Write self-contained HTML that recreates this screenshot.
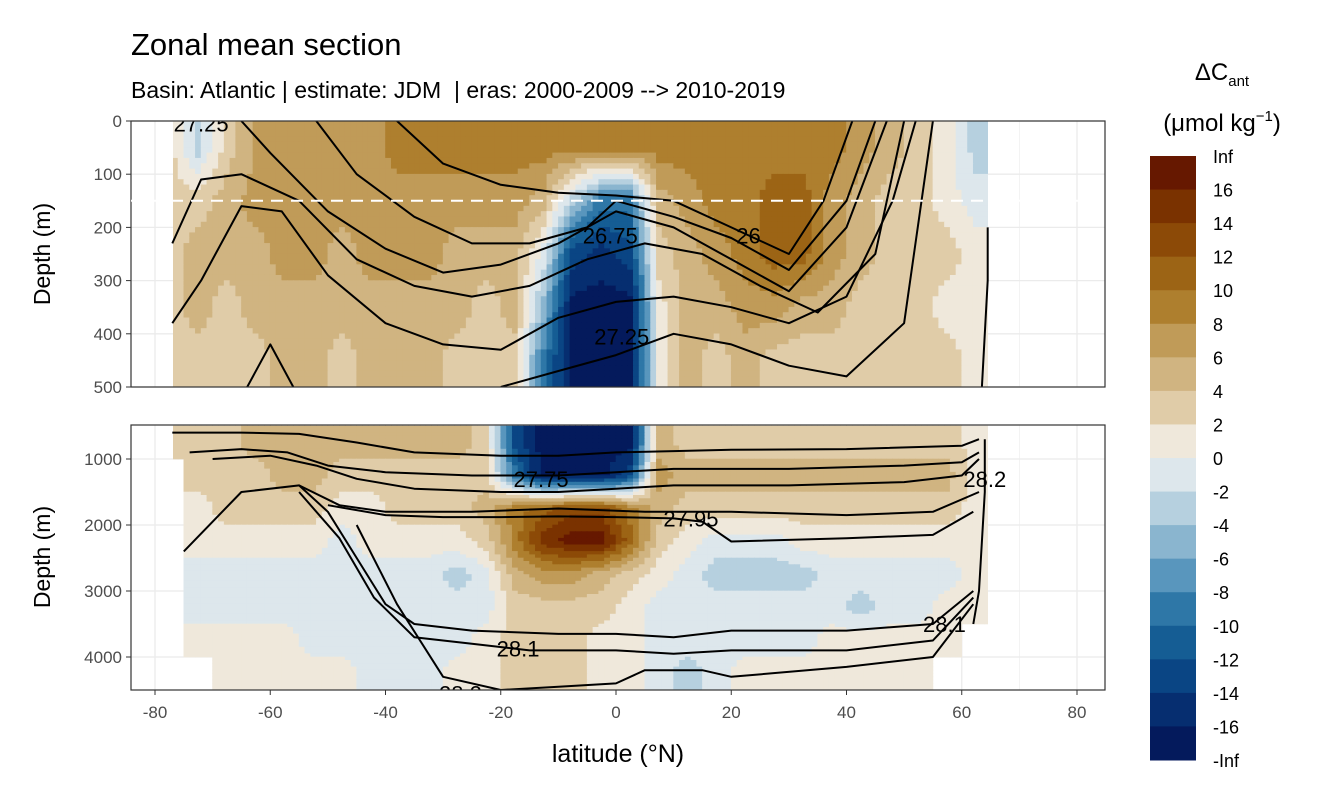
<!DOCTYPE html>
<html><head><meta charset="utf-8"><style>
body{margin:0;background:#fff;font-family:"Liberation Sans",sans-serif;}
svg text{font-family:"Liberation Sans","DejaVu Sans",sans-serif;white-space:pre;}
</style></head><body>
<svg id="chart" width="1344" height="806" viewBox="0 0 1344 806" xmlns="http://www.w3.org/2000/svg">
<defs>
<clipPath id="clipTop"><rect x="173" y="121" width="815" height="266"/></clipPath>
<clipPath id="clipBot"><rect x="173" y="425" width="815" height="265"/></clipPath>
<clipPath id="clipTopP"><rect x="131" y="121" width="974" height="266"/></clipPath>
<clipPath id="clipBotP"><rect x="131" y="425" width="974" height="265"/></clipPath>
</defs>
<text x="131" y="55" font-size="31" fill="#000">Zonal mean section</text>
<text x="131" y="98" font-size="23" fill="#000" xml:space="preserve">Basin: Atlantic | estimate: JDM  | eras: 2000-2009 --&gt; 2010-2019</text>
<g id="gTop"></g><g id="gBot"></g><g id="gLegend"></g>
<text x="618" y="762" font-size="25" text-anchor="middle">latitude (°N)</text>
<text transform="translate(50,254) rotate(-90)" font-size="23" text-anchor="middle">Depth (m)</text>
<text transform="translate(50,557) rotate(-90)" font-size="23" text-anchor="middle">Depth (m)</text>
<text x="1222" y="80" font-size="24" text-anchor="middle">ΔC<tspan font-size="15" dy="6">ant</tspan></text>
<text x="1222" y="131" font-size="24" text-anchor="middle">(μmol kg<tspan font-size="15" dy="-10">−1</tspan><tspan dy="10">)</tspan></text>
</svg>
<script>
const latCenters=[-77.5,-72.5,-67.5,-62.5,-57.5,-52.5,-47.5,-42.5,-37.5,-32.5,-27.5,-22.5,-17.5,-12.5,-7.5,-2.5,2.5,7.5,12.5,17.5,22.5,27.5,32.5,37.5,42.5,47.5,52.5,57.5,62.5];
const topDepths=[50,150,250,350,450];
const topValues=[
[3,-3,3,6,7,7,7,7,9,9,9,9,9,9,9,9,9,9,9,9,9,9,9,9,7,5,3,1,-3],
[3,3,5,7,7,7,7,7,7,7,7,7,7,5,-3,-9,-9,5,7,9,9,11,11,7,5,3,3,1,-1],
[3,5,5,5,7,7,5,7,7,7,5,5,5,-1,-13,-15,-13,3,5,7,9,11,11,7,5,3,3,3,1],
[3,5,3,5,5,5,5,5,5,5,5,3,5,-5,-17,-17,-17,1,5,5,7,7,5,5,3,3,3,1,1],
[3,3,3,3,5,5,3,5,5,5,3,3,3,-9,-17,-17,-17,1,5,3,5,3,3,3,3,3,3,3,1]];
const botDepths=[750,1250,1750,2250,2750,3250,3750,4250];
const botValues=[
[3,3,3,5,5,5,5,5,5,5,5,3,-13,-17,-17,-17,-17,5,3,3,3,3,3,3,3,3,3,3,1],
[null,3,3,3,5,5,3,3,3,3,3,3,-9,-17,-17,-17,-13,7,5,5,5,5,5,5,5,5,5,5,1],
[null,1,3,3,3,3,1,1,3,3,3,5,9,11,13,13,9,5,3,3,3,3,3,3,3,3,3,3,1],
[null,1,1,1,1,1,-1,1,1,1,1,3,9,15,17,17,11,3,1,-1,-1,-1,1,1,1,1,1,1,1],
[null,-1,-1,-1,-1,-1,-1,-1,-1,-1,-3,-1,5,7,7,5,3,1,-1,-3,-3,-3,-3,-1,-1,-1,-1,-1,1],
[null,-1,-1,-1,-1,-1,-1,-1,-1,-1,-1,-1,3,3,3,3,1,-1,-1,-1,-1,-1,-1,-1,-3,-1,-1,1,1],
[null,1,1,1,1,-1,-1,-1,-1,-1,-1,1,3,3,3,1,1,-1,-1,-1,-1,-1,-1,1,1,1,1,1,null],
[null,null,1,1,1,1,1,-1,-1,-1,1,1,3,3,3,1,1,-1,-3,-1,1,1,1,1,1,1,1,null,null]];
const legendLabels=["Inf","16","14","12","10","8","6","4","2","0","-2","-4","-6","-8","-10","-12","-14","-16","-Inf"];
const binColors=["#661800","#7a3200","#8c4a07","#9c6415","#ae7f2e","#c09b58","#d0b481","#e0cca8","#efe8db","#dde7ec","#b6d0df","#8ab5cf","#5996bd","#2e77a7","#155d94","#0a4584","#062e70","#041a5c"];
const xTicks=[-80,-60,-40,-20,0,20,40,60,80];
const topYTicks=[0,100,200,300,400,500];
const botYTicks=[1000,2000,3000,4000];
const topLines=[
{lat:[-38,-30,-20,-10,0,10,20,30,36,41],d:[0,80,120,135,140,150,200,250,150,0]},
{lat:[-52,-45,-35,-25,-15,-5,0,10,20,30,40,45],d:[0,100,180,230,230,200,150,180,220,280,150,0]},
{lat:[-65,-60,-50,-40,-30,-20,-10,0,10,20,30,40,47],d:[0,60,170,240,285,270,230,170,200,260,320,200,0]},
{lat:[-77,-72,-65,-55,-45,-35,-25,-15,-5,5,15,25,35,45,50],d:[230,110,100,150,260,310,330,310,260,230,250,310,360,250,0]},
{lat:[-77,-72,-65,-58,-50,-40,-30,-20,-10,0,10,20,30,40,48,52],d:[380,300,160,170,290,380,420,430,370,340,330,350,380,330,150,0]},
{lat:[-20,-10,0,10,20,30,40,50,55],d:[500,470,440,400,420,460,480,380,0]},
{lat:[-64,-60,-56],d:[500,420,500]},
{lat:[63.5,64.5,64.5],d:[500,300,200]}];
const botLines=[
{lat:[-77,-65,-55,-45,-35,-20,-10,0,10,20,40,60,63],d:[600,600,620,750,900,950,950,900,880,860,850,800,700]},
{lat:[-74,-65,-57,-50,-40,-25,-10,0,10,30,50,60,63],d:[900,850,900,1100,1200,1250,1250,1200,1150,1150,1100,1050,900]},
{lat:[-70,-60,-52,-45,-35,-20,-10,0,10,30,50,60,63],d:[1000,950,1100,1300,1450,1500,1500,1450,1400,1400,1350,1250,1000]},
{lat:[-75,-65,-55,-48,-40,-25,-10,5,20,40,55,63],d:[2400,1500,1400,1700,1800,1800,1750,1800,1800,1850,1800,1500]},
{lat:[-50,-40,-30,-20,-10,0,10,15,20,40,55,62],d:[1700,1850,1880,1880,1870,1880,1900,1950,2250,2200,2150,1800]},
{lat:[-55,-50,-45,-40,-35,-25,-10,0,10,20,40,55,62],d:[1400,1800,2500,3200,3500,3600,3650,3650,3700,3600,3600,3500,3000]},
{lat:[-55,-48,-42,-35,-25,-15,0,10,20,40,55,62],d:[1500,2200,3100,3700,3800,3900,3900,3950,3900,3900,3750,3100]},
{lat:[-45,-38,-30,-20,-10,0,5,15,20,40,55,62],d:[2000,3200,4300,4500,4450,4400,4200,4200,4300,4150,4000,3200]},
{lat:[62,63,64,64],d:[3500,3000,1500,700]}];
const topLabels=[{t:"26.75",lat:-1,d:215},{t:"26",lat:23,d:215},{t:"27.25",lat:1,d:405},{t:"27.25",lat:-72,d:5}];
const botLabels=[{t:"27.75",lat:-13,d:1300},{t:"27.95",lat:13,d:1900},{t:"28.1",lat:-17,d:3870},{t:"28.2",lat:-27,d:4550},{t:"28.1",lat:57,d:3500},{t:"28.2",lat:64,d:1300}];

const NS="http://www.w3.org/2000/svg";
function mk(tag,attrs,parent){const e=document.createElementNS(NS,tag);for(const k in attrs)e.setAttribute(k,attrs[k]);parent.appendChild(e);return e;}
const xS=lat=>616+lat*5.7625;
const yTop=d=>121+d*0.532;
const yBot=d=>459+(d-1000)*0.066;
function colorOf(v){const edges=[16,14,12,10,8,6,4,2,0,-2,-4,-6,-8,-10,-12,-14,-16];for(let i=0;i<edges.length;i++){if(v>=edges[i])return binColors[i];}return binColors[17];}
function locate(arr,v){if(v<=arr[0])return [0,0,0];const n=arr.length;if(v>=arr[n-1])return [n-1,n-1,0];
  for(let i=0;i<n-1;i++){if(v>=arr[i]&&v<arr[i+1])return [i,i+1,(v-arr[i])/(arr[i+1]-arr[i])];}return [n-1,n-1,0];}
function sample(depths,values,lat,d){
  const [i0,i1,fx]=locate(latCenters,lat),[r0,r1,fy]=locate(depths,d);
  const a=values[r0][i0],b=values[r0][i1],c=values[r1][i0],e=values[r1][i1];
  if(a===null||b===null||c===null||e===null){
    const ri=fy<0.5?r0:r1,ci=fx<0.5?i0:i1;return values[ri][ci];}
  return (a*(1-fx)+b*fx)*(1-fy)+(c*(1-fx)+e*fx)*fy;
}

function panel(g,y0,h,yS,yTicks,depths,values,dMin,dMax,dStep,lines,labels,clipCells,clipP,pname){
  const bg=mk('rect',{x:131,y:y0,width:974,height:h,fill:'#fff'},g);
  
  for(let v=-80;v<=80;v+=10){const l=mk('line',{x1:xS(v),x2:xS(v),y1:y0,y2:y0+h,stroke:'#ebebeb','stroke-width':v%20===0?1.3:0.6},g);}
  yTicks.forEach(t=>{const l=mk('line',{x1:131,x2:1105,y1:yS(t),y2:yS(t),stroke:'#ebebeb','stroke-width':1.3},g);});
  const cg=mk('g',{'clip-path':'url(#'+clipCells+')'},g);
  for(let d=dMin;d<dMax;d+=dStep){
    for(let la=-78;la<65;la+=1){
      const v=sample(depths,values,la+0.5,d+dStep/2);if(v===null)continue;
      const x0=xS(la),x1=xS(la+1),ya=yS(d),yb=yS(d+dStep);
      const c=mk('rect',{x:x0-0.3,y:ya-0.3,width:x1-x0+0.6,height:yb-ya+0.6,fill:colorOf(v)},cg);
      
      
    }
  }
  const lg=mk('g',{'clip-path':'url(#'+clipP+')'},g);
  lines.forEach(L=>{const p=L.lat.map((la,k)=>xS(la).toFixed(1)+','+yS(L.d[k]).toFixed(1)).join(' ');
    const pl=mk('polyline',{points:p,fill:'none',stroke:'#000','stroke-width':2,'stroke-linejoin':'round'},lg);
    
    });
  labels.forEach(Lb=>{const t=mk('text',{x:xS(Lb.lat),y:yS(Lb.d)+8,'font-size':22,'text-anchor':'middle'},lg);t.textContent=Lb.t;
    
    });
  const br=mk('rect',{x:131,y:y0,width:974,height:h,fill:'none',stroke:'#333','stroke-width':1.2},g);
  
  
  yTicks.forEach(t=>{const y=yS(t);mk('line',{x1:126,x2:131,y1:y,y2:y,stroke:'#333'},g);
    const tx=mk('text',{x:122,y:y+6,'font-size':17,'text-anchor':'end',fill:'#4d4d4d'},g);tx.textContent=t;
    
    });
}
const gT=document.getElementById('gTop'),gB=document.getElementById('gBot');
panel(gT,121,266,yTop,topYTicks,topDepths,topValues,0,500,10,topLines,topLabels,'clipTop','clipTopP','top-panel');
const dl=mk('line',{x1:131,x2:1105,y1:yTop(150),y2:yTop(150),stroke:'#fff','stroke-width':2,'stroke-dasharray':'12,8'},gT);


panel(gB,425,265,yBot,botYTicks,botDepths,botValues,500,4500,50,botLines,botLabels,'clipBot','clipBotP','bottom-panel');
xTicks.forEach(t=>{const x=xS(t);mk('line',{x1:x,x2:x,y1:690,y2:695,stroke:'#333'},gB);
  const tx=mk('text',{x:x,y:718,'font-size':17,'text-anchor':'middle',fill:'#4d4d4d'},gB);tx.textContent=t;
  
  });
const gL=document.getElementById('gLegend');
const bh=(760-156)/18;
for(let i=0;i<18;i++){const r=mk('rect',{x:1150,y:156+i*bh,width:46,height:bh+0.5,fill:binColors[i]},gL);
  
  }
legendLabels.forEach((s,i)=>{const y=156+i*bh;
  const tx=mk('text',{x:1213,y:y+7,'font-size':18,fill:'#000'},gL);tx.textContent=s;
  
  });
</script>
</body></html>
